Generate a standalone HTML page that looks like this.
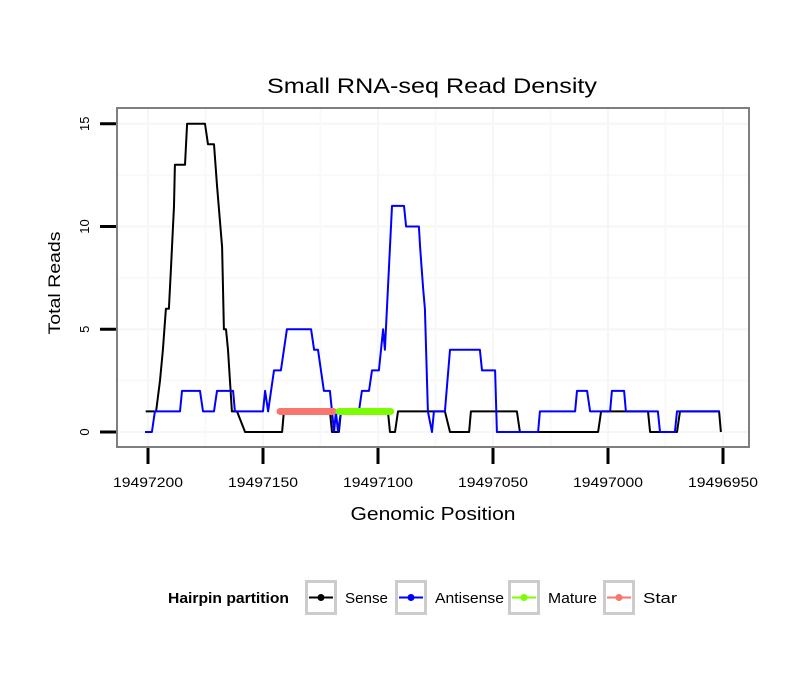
<!DOCTYPE html>
<html><head><meta charset="utf-8"><style>
body{margin:0;background:#fff;}
svg{display:block;font-family:"Liberation Sans",sans-serif;}
</style></head><body>
<svg id="chart" width="810" height="690">
<rect width="810" height="690" fill="#fff"/>
<text x="432" y="93" font-size="21" text-anchor="middle" textLength="330" lengthAdjust="spacingAndGlyphs">Small RNA-seq Read Density</text>
<text x="0" y="0" font-size="17" text-anchor="middle" textLength="103" lengthAdjust="spacingAndGlyphs" transform="translate(60,283) rotate(-90)">Total Reads</text>
<text x="433" y="520" font-size="18" text-anchor="middle" textLength="165" lengthAdjust="spacingAndGlyphs">Genomic Position</text>
<g id="grid"></g><g id="series"></g><g id="axes"></g>
<rect x="117" y="108" width="632" height="339" fill="none" stroke="#7f7f7f" stroke-width="2"/>
<g id="legend">
<text x="168" y="603" font-size="15" font-weight="bold" textLength="121" lengthAdjust="spacingAndGlyphs">Hairpin partition</text>
</g>
</svg>
<script>
const xTicks=[19497200,19497150,19497100,19497050,19497000,19496950];
const yTicks=[0,5,10,15];
const sensePos=[19497201,19497196.5,19497194.8,19497193.5,19497192.2,19497190.9,19497190,19497188.7,19497188.3,19497183.9,19497183,19497175.2,19497173.9,19497171.3,19497170,19497167.8,19497167,19497166.1,19497165.2,19497163.5,19497161.3,19497157.8,19497141.7,19497140.9,19497120.9,19497120,19497117,19497116.1,19497095.7,19497094.8,19497092.6,19497091.3,19497070.9,19497068.7,19497060.4,19497059.6,19497039.6,19497038.3,19497004.3,19497003,19496982.6,19496981.7,19496970,19496968.7,19496951.7,19496950.9];
const senseVal=[1,1,2.5,4,6,6,8,11,13,13,15,15,14,14,12,9,5,5,4,1,1,0,0,1,1,0,0,1,1,0,0,1,1,0,0,1,1,0,0,1,1,0,0,1,1,0];
const antiPos=[19497201.3,19497198.3,19497197,19497186.1,19497185.2,19497177.4,19497176.1,19497171.3,19497170,19497163,19497162.2,19497150,19497149.1,19497147.8,19497145.2,19497142.2,19497139.6,19497129.1,19497127.8,19497126.1,19497123.5,19497120.9,19497119.1,19497118.3,19497117.4,19497116.1,19497108.3,19497107,19497103.9,19497102.6,19497099.6,19497097.8,19497097,19497093.9,19497088.7,19497087.8,19497082.2,19497081.7,19497080.4,19497079.6,19497078.3,19497076.5,19497075.7,19497070.9,19497068.7,19497055.7,19497054.8,19497049.1,19497048.3,19497030.4,19497029.6,19497014.3,19497013.5,19497009.1,19497007.8,19496999.1,19496998.3,19496993,19496992.2,19496978.3,19496977.4,19496970.9,19496970,19496951.3];
const antiVal=[0,0,1,1,2,2,1,1,2,2,1,1,2,1,3,3,5,5,4,4,2,2,0,1,0,1,1,2,2,3,3,5,4,11,11,10,10,9,7,6,1,0,1,1,4,4,3,3,0,0,1,1,2,2,1,1,2,2,1,1,0,0,1,1];
const starRange=[19497142.6,19497119.4];
const matureRange=[19497117,19497094.5];
const segVal=1;
const X=p=>148+(19497200-p)*2.3;
const Y=v=>432-v*20.55;
const NS="http://www.w3.org/2000/svg";
function mk(tag,attrs,parent){const e=document.createElementNS(NS,tag);for(const k in attrs)e.setAttribute(k,attrs[k]);document.getElementById(parent).appendChild(e);return e;}
for(let i=0;i<yTicks.length;i++){const v=yTicks[i];
 const g=mk('line',{x1:117,x2:749,y1:Y(v),y2:Y(v),stroke:'#f6f6f6','stroke-width':2},'grid');
 
 
 if(i<yTicks.length-1){const m=mk('line',{x1:117,x2:749,y1:Y(v+2.5),y2:Y(v+2.5),stroke:'#f9f9f9','stroke-width':2},'grid');
 
 }
}
for(let i=0;i<xTicks.length;i++){const p=xTicks[i];
 const g=mk('line',{x1:X(p),x2:X(p),y1:108,y2:447,stroke:'#f6f6f6','stroke-width':2},'grid');
 
 
 if(i<xTicks.length-1){const m=mk('line',{x1:X(p-25),x2:X(p-25),y1:108,y2:447,stroke:'#f9f9f9','stroke-width':2},'grid');
 
 }
}
function path(pos,val){return pos.map((p,i)=>(i?'L':'M')+X(p).toFixed(1)+','+Y(val[i]).toFixed(1)).join('');}
const s1=mk('path',{d:path(sensePos,senseVal),fill:'none',stroke:'#000','stroke-width':2,'stroke-linejoin':'round'},'series');


const s2=mk('path',{d:path(antiPos,antiVal),fill:'none',stroke:'#0000ff','stroke-width':2,'stroke-linejoin':'round'},'series');


const st=mk('line',{x1:X(starRange[0]),x2:X(starRange[1]),y1:Y(segVal),y2:Y(segVal),stroke:'#f8766d','stroke-width':7,'stroke-linecap':'round'},'series');


const ma=mk('line',{x1:X(matureRange[0]),x2:X(matureRange[1]),y1:Y(segVal),y2:Y(segVal),stroke:'#7cfc00','stroke-width':7,'stroke-linecap':'round'},'series');


for(const v of yTicks){
 const t=mk('line',{x1:100,x2:117,y1:Y(v),y2:Y(v),stroke:'#000','stroke-width':3},'axes');
 
 
 const l=mk('text',{transform:`translate(${89},${Y(v)}) rotate(-90)`,'font-size':13,'text-anchor':'middle'},'axes');
 l.textContent=v;
 
 
}
for(const p of xTicks){
 const t=mk('line',{x1:X(p),x2:X(p),y1:447,y2:464,stroke:'#000','stroke-width':3},'axes');
 
 
 const l=mk('text',{x:X(p),y:487,'font-size':14,'text-anchor':'middle',textLength:70,lengthAdjust:'spacingAndGlyphs'},'axes');
 l.textContent=p;
 
 
}
const legNames=['Sense','Antisense','Mature','Star'];
const legColors=['#000','#0000ff','#7cfc00','#f8766d'];
const legBoxX=[305,395,508,603];
const legTextW=[43,69,49,34];
for(let i=0;i<legNames.length;i++){
 const bx=legBoxX[i];
 const b=mk('rect',{x:bx+1.5,y:581.5,width:29,height:32,fill:'#fff',stroke:'#cccccc','stroke-width':3},'legend');
 
 
 const ln=mk('line',{x1:bx+4,x2:bx+28,y1:597.5,y2:597.5,stroke:legColors[i],'stroke-width':2},'legend');
 
 
 const c=mk('circle',{cx:bx+16,cy:597.5,r:3.5,fill:legColors[i]},'legend');
 
 
 const t=mk('text',{x:bx+40,y:603,'font-size':15,textLength:legTextW[i],lengthAdjust:'spacingAndGlyphs'},'legend');
 t.textContent=legNames[i];
 
 
}
</script>
</body></html>
